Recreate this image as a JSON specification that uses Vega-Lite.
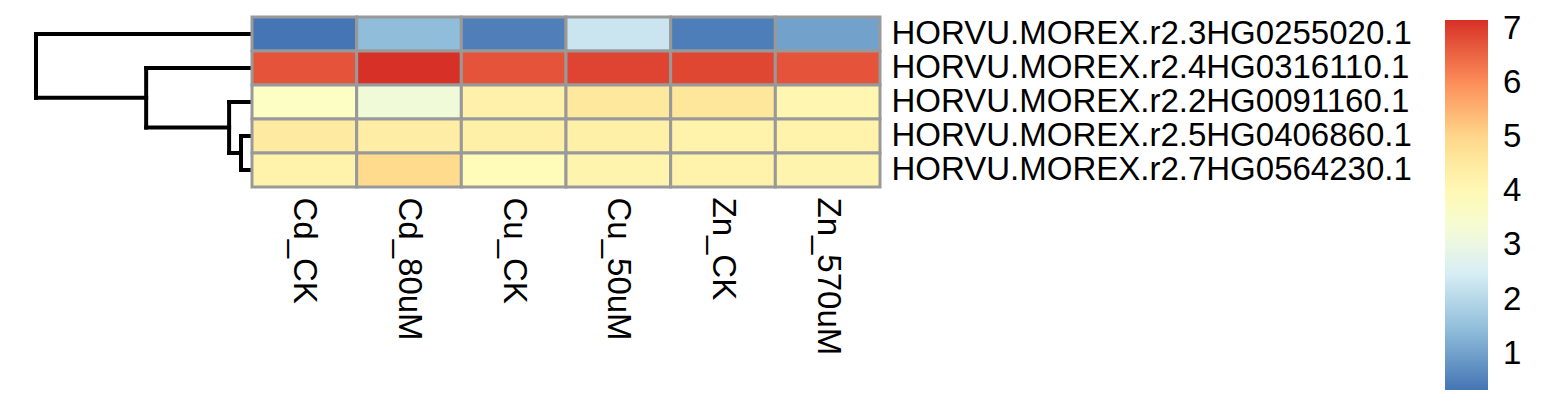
{
  "$schema": "https://vega.github.io/schema/vega-lite/v6.json",
  "padding": {"left": 33, "top": 15, "right": 0, "bottom": 0},
  "background": "white",
  "config": {"view": {"stroke": null}, "font": "Liberation Sans"},
  "datasets": {
    "cells": [
      {"gene": "HORVU.MOREX.r2.3HG0255020.1", "sample": "Cd_CK", "value": 0.335},
      {"gene": "HORVU.MOREX.r2.3HG0255020.1", "sample": "Cd_80uM", "value": 1.45},
      {"gene": "HORVU.MOREX.r2.3HG0255020.1", "sample": "Cu_CK", "value": 0.48},
      {"gene": "HORVU.MOREX.r2.3HG0255020.1", "sample": "Cu_50uM", "value": 2.3},
      {"gene": "HORVU.MOREX.r2.3HG0255020.1", "sample": "Zn_CK", "value": 0.47},
      {"gene": "HORVU.MOREX.r2.3HG0255020.1", "sample": "Zn_570uM", "value": 1.01},
      {"gene": "HORVU.MOREX.r2.4HG0316110.1", "sample": "Cd_CK", "value": 6.72},
      {"gene": "HORVU.MOREX.r2.4HG0316110.1", "sample": "Cd_80uM", "value": 7.157},
      {"gene": "HORVU.MOREX.r2.4HG0316110.1", "sample": "Cu_CK", "value": 6.72},
      {"gene": "HORVU.MOREX.r2.4HG0316110.1", "sample": "Cu_50uM", "value": 6.92},
      {"gene": "HORVU.MOREX.r2.4HG0316110.1", "sample": "Zn_CK", "value": 6.88},
      {"gene": "HORVU.MOREX.r2.4HG0316110.1", "sample": "Zn_570uM", "value": 6.72},
      {"gene": "HORVU.MOREX.r2.2HG0091160.1", "sample": "Cd_CK", "value": 3.65},
      {"gene": "HORVU.MOREX.r2.2HG0091160.1", "sample": "Cd_80uM", "value": 3.25},
      {"gene": "HORVU.MOREX.r2.2HG0091160.1", "sample": "Cu_CK", "value": 4.25},
      {"gene": "HORVU.MOREX.r2.2HG0091160.1", "sample": "Cu_50uM", "value": 4.58},
      {"gene": "HORVU.MOREX.r2.2HG0091160.1", "sample": "Zn_CK", "value": 4.62},
      {"gene": "HORVU.MOREX.r2.2HG0091160.1", "sample": "Zn_570uM", "value": 4.06},
      {"gene": "HORVU.MOREX.r2.5HG0406860.1", "sample": "Cd_CK", "value": 4.5},
      {"gene": "HORVU.MOREX.r2.5HG0406860.1", "sample": "Cd_80uM", "value": 4.38},
      {"gene": "HORVU.MOREX.r2.5HG0406860.1", "sample": "Cu_CK", "value": 4.3},
      {"gene": "HORVU.MOREX.r2.5HG0406860.1", "sample": "Cu_50uM", "value": 4.3},
      {"gene": "HORVU.MOREX.r2.5HG0406860.1", "sample": "Zn_CK", "value": 4.22},
      {"gene": "HORVU.MOREX.r2.5HG0406860.1", "sample": "Zn_570uM", "value": 4.22},
      {"gene": "HORVU.MOREX.r2.7HG0564230.1", "sample": "Cd_CK", "value": 4.2},
      {"gene": "HORVU.MOREX.r2.7HG0564230.1", "sample": "Cd_80uM", "value": 4.95},
      {"gene": "HORVU.MOREX.r2.7HG0564230.1", "sample": "Cu_CK", "value": 3.86},
      {"gene": "HORVU.MOREX.r2.7HG0564230.1", "sample": "Cu_50uM", "value": 4.15},
      {"gene": "HORVU.MOREX.r2.7HG0564230.1", "sample": "Zn_CK", "value": 4.2},
      {"gene": "HORVU.MOREX.r2.7HG0564230.1", "sample": "Zn_570uM", "value": 4.15}
    ],
    "tree": [
      {"h1": 0, "h2": 1, "p1": 0.5, "p2": 0.5},
      {"h1": 0.49, "h2": 1, "p1": 2.375, "p2": 2.375},
      {"h1": 1, "h2": 1, "p1": 0.5, "p2": 2.375},
      {"h1": 0, "h2": 0.49, "p1": 1.5, "p2": 1.5},
      {"h1": 0.106, "h2": 0.49, "p1": 3.25, "p2": 3.25},
      {"h1": 0.49, "h2": 0.49, "p1": 1.5, "p2": 3.25},
      {"h1": 0, "h2": 0.106, "p1": 2.5, "p2": 2.5},
      {"h1": 0.051, "h2": 0.106, "p1": 4, "p2": 4},
      {"h1": 0.106, "h2": 0.106, "p1": 2.5, "p2": 4},
      {"h1": 0, "h2": 0.051, "p1": 3.5, "p2": 3.5},
      {"h1": 0, "h2": 0.051, "p1": 4.5, "p2": 4.5},
      {"h1": 0.051, "h2": 0.051, "p1": 3.5, "p2": 4.5}
    ]
  },
  "bounds": "flush",
  "spacing": 0,
  "hconcat": [
    {
      "width": 216,
      "height": 170,
      "data": {"name": "tree"},
      "mark": {"type": "rule", "color": "black", "strokeWidth": 4, "strokeCap": "square"},
      "encoding": {
        "x": {"field": "h1", "type": "quantitative", "scale": {"domain": [0, 1], "reverse": true, "nice": false, "zero": false}, "axis": null},
        "x2": {"field": "h2"},
        "y": {"field": "p1", "type": "quantitative", "scale": {"domain": [0, 5], "reverse": true, "nice": false, "zero": false}, "axis": null},
        "y2": {"field": "p2"}
      }
    },
    {
      "width": 628,
      "height": 170,
      "data": {"name": "cells"},
      "mark": {"type": "rect", "stroke": "#999999", "strokeWidth": 3},
      "encoding": {
        "x": {
          "field": "sample", "type": "nominal",
          "sort": ["Cd_CK", "Cd_80uM", "Cu_CK", "Cu_50uM", "Zn_CK", "Zn_570uM"],
          "scale": {"paddingInner": 0, "paddingOuter": 0},
          "axis": {"orient": "bottom", "title": null, "labelAngle": 90, "labelFontSize": 33, "labelFont": "Liberation Sans", "labelColor": "black", "ticks": false, "domain": false, "labelPadding": 10, "labelLimit": 0, "labelOverlap": false}
        },
        "y": {
          "field": "gene", "type": "nominal",
          "sort": ["HORVU.MOREX.r2.3HG0255020.1", "HORVU.MOREX.r2.4HG0316110.1", "HORVU.MOREX.r2.2HG0091160.1", "HORVU.MOREX.r2.5HG0406860.1", "HORVU.MOREX.r2.7HG0564230.1"],
          "scale": {"paddingInner": 0, "paddingOuter": 0},
          "axis": {"orient": "right", "title": null, "labelFontSize": 33, "labelFont": "Liberation Sans", "labelColor": "black", "ticks": false, "domain": false, "labelPadding": 11, "labelLimit": 0, "labelOverlap": false}
        },
        "color": {
          "field": "value", "type": "quantitative",
          "scale": {"domain": [0.335, 1.472, 2.609, 3.746, 4.883, 6.02, 7.157], "range": ["#4575B4", "#91BFDB", "#E0F3F8", "#FFFFBF", "#FEE090", "#FC8D59", "#D73027"], "interpolate": "rgb"},
          "legend": {
            "orient": "none", "legendX": 1409, "legendY": 3, "title": null,
            "direction": "vertical", "gradientLength": 370, "gradientThickness": 43, "gradientStrokeWidth": 0,
            "values": [1, 2, 3, 4, 5, 6, 7], "labelFontSize": 33, "labelFont": "Liberation Sans", "labelColor": "black", "labelOffset": 15, "labelOverlap": false, "padding": 0
          }
        }
      }
    }
  ]
}
